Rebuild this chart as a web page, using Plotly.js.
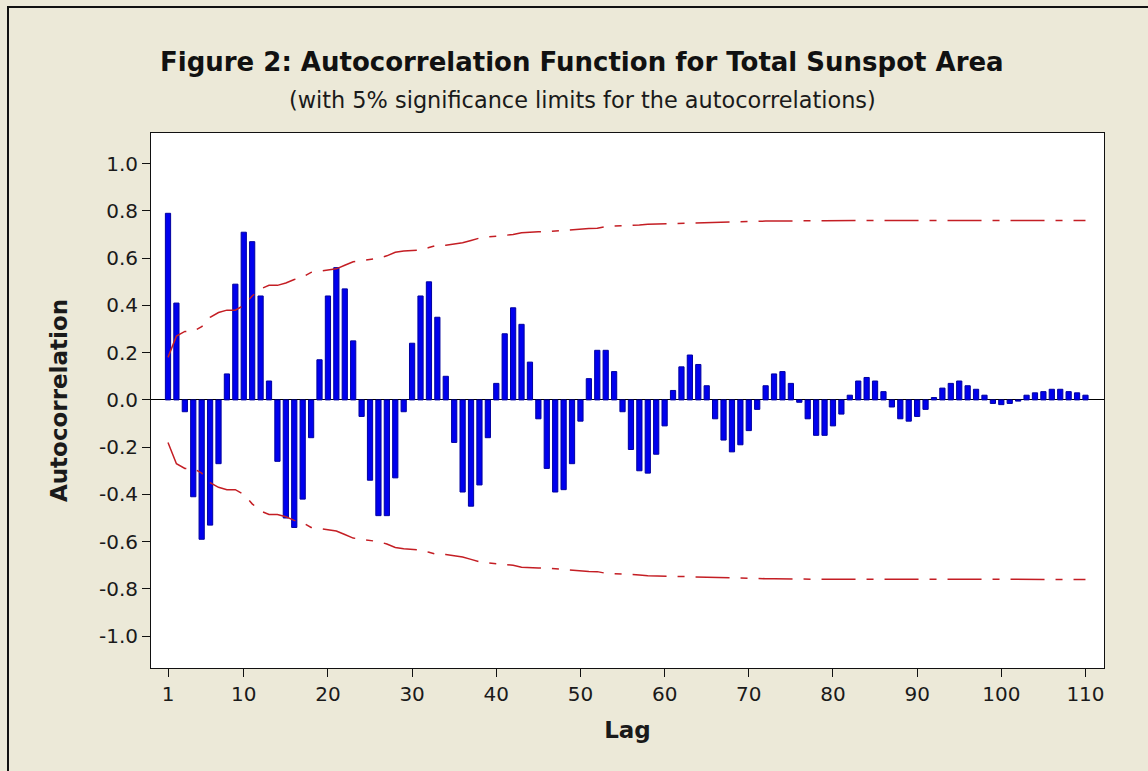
<!DOCTYPE html>
<html>
<head>
<meta charset="utf-8">
<script src="https://cdn.plot.ly/plotly-3.0.1.min.js"></script>
<style>
  html, body { margin: 0; padding: 0; background: #ece9d8; overflow: hidden; }
  #wrap { position: relative; width: 1148px; height: 771px; }
  #chart { position: absolute; left: 0; top: 0; width: 1148px; height: 771px; }
  #frame { position: absolute; left: 7px; top: 6px; width: 1160px; height: 800px;
           border-left: 2px solid #111; border-top: 2px solid #111; pointer-events: none; }
</style>
</head>
<body>
<div id="wrap">
  <div id="chart"></div>
  <div id="frame"></div>
</div>
<script>
// Lags 1..110
const lags = [];
for (let k = 1; k <= 110; k++) lags.push(k);

// Autocorrelation values
const acf = [
  0.79, 0.41, -0.05, -0.41, -0.59, -0.53, -0.27, 0.11, 0.49, 0.71,
  0.67, 0.44, 0.08, -0.26, -0.50, -0.54, -0.42, -0.16, 0.17, 0.44,
  0.56, 0.47, 0.25, -0.07, -0.34, -0.49, -0.49, -0.33, -0.05, 0.24,
  0.44, 0.50, 0.35, 0.10, -0.18, -0.39, -0.45, -0.36, -0.16, 0.07,
  0.28, 0.39, 0.32, 0.16, -0.08, -0.29, -0.39, -0.38, -0.27, -0.09,
  0.09, 0.21, 0.21, 0.12, -0.05, -0.21, -0.30, -0.31, -0.23, -0.11,
  0.04, 0.14, 0.19, 0.15, 0.06, -0.08, -0.17, -0.22, -0.19, -0.13,
  -0.04, 0.06, 0.11, 0.12, 0.07, -0.01, -0.08, -0.15, -0.15, -0.11,
  -0.06, 0.02, 0.08, 0.095, 0.08, 0.035, -0.03, -0.08, -0.09, -0.07,
  -0.04, 0.01, 0.05, 0.07, 0.08, 0.06, 0.045, 0.02, -0.015, -0.02,
  -0.015, -0.005, 0.02, 0.03, 0.035, 0.045, 0.045, 0.035, 0.03, 0.02
];

// Upper 5% significance limit
const upperLimit = [
  0.18, 0.27, 0.29, 0.29, 0.31, 0.35, 0.37, 0.38, 0.38, 0.40,
  0.44, 0.47, 0.485, 0.485, 0.495, 0.51, 0.52, 0.54, 0.545, 0.55,
  0.555, 0.57, 0.585, 0.59, 0.595, 0.60, 0.61, 0.625, 0.63, 0.633,
  0.635, 0.645, 0.655, 0.655, 0.66, 0.665, 0.675, 0.685, 0.69, 0.694,
  0.696, 0.70, 0.708, 0.711, 0.712, 0.712, 0.715, 0.718, 0.72, 0.725,
  0.726, 0.727, 0.734, 0.736, 0.737, 0.738, 0.741, 0.744, 0.745, 0.747,
  0.748, 0.75, 0.751, 0.752, 0.753, 0.754, 0.755, 0.755, 0.755, 0.756,
  0.756, 0.757, 0.757, 0.758, 0.758, 0.758, 0.758, 0.759, 0.759, 0.759,
  0.759, 0.759, 0.759, 0.76, 0.76, 0.76, 0.76, 0.76, 0.76, 0.76,
  0.76, 0.76, 0.76, 0.76, 0.76, 0.76, 0.76, 0.76, 0.76, 0.76,
  0.76, 0.76, 0.76, 0.76, 0.76, 0.76, 0.76, 0.76, 0.76, 0.76
];

// Lower 5% significance limit
const lowerLimit = [
  -0.18, -0.27, -0.29, -0.29, -0.31, -0.35, -0.37, -0.38, -0.38, -0.40,
  -0.44, -0.47, -0.485, -0.485, -0.495, -0.51, -0.52, -0.54, -0.545, -0.55,
  -0.555, -0.57, -0.585, -0.59, -0.595, -0.60, -0.61, -0.625, -0.63, -0.633,
  -0.635, -0.645, -0.655, -0.655, -0.66, -0.665, -0.675, -0.685, -0.69, -0.694,
  -0.696, -0.70, -0.708, -0.711, -0.712, -0.712, -0.715, -0.718, -0.72, -0.725,
  -0.726, -0.727, -0.734, -0.736, -0.737, -0.738, -0.741, -0.744, -0.745, -0.747,
  -0.748, -0.75, -0.751, -0.752, -0.753, -0.754, -0.755, -0.755, -0.755, -0.756,
  -0.756, -0.757, -0.757, -0.758, -0.758, -0.758, -0.758, -0.759, -0.759, -0.759,
  -0.759, -0.759, -0.759, -0.76, -0.76, -0.76, -0.76, -0.76, -0.76, -0.76,
  -0.76, -0.76, -0.76, -0.76, -0.76, -0.76, -0.76, -0.76, -0.76, -0.76,
  -0.76, -0.76, -0.76, -0.76, -0.76, -0.76, -0.76, -0.76, -0.76, -0.76
];

const xTickVals = [1, 10, 20, 30, 40, 50, 60, 70, 80, 90, 100, 110];
const xTickText = ['1', '10', '20', '30', '40', '50', '60', '70', '80', '90', '100', '110'];
const yTickVals = [-1.0, -0.8, -0.6, -0.4, -0.2, 0.0, 0.2, 0.4, 0.6, 0.8, 1.0];
const yTickText = ['-1.0', '-0.8', '-0.6', '-0.4', '-0.2', '0.0', '0.2', '0.4', '0.6', '0.8', '1.0'];

const titleText = 'Figure 2: Autocorrelation Function for Total Sunspot Area';
const subtitleText = '(with 5% significance limits for the autocorrelations)';

const FONT = 'DejaVu Sans, Verdana, sans-serif';
const limitDash = '34px,11px,7px,11px';

const traces = [
  {
    type: 'bar', x: lags, y: acf, width: 0.62,
    marker: { color: '#0000ee', line: { color: '#0000a0', width: 1 } },
    hoverinfo: 'x+y'
  },
  {
    type: 'scatter', mode: 'lines', x: lags, y: upperLimit,
    line: { color: '#c41e24', width: 1.5, dash: limitDash }
  },
  {
    type: 'scatter', mode: 'lines', x: lags, y: lowerLimit,
    line: { color: '#c41e24', width: 1.5, dash: limitDash }
  }
];

const layout = {
  width: 1148, height: 771,
  paper_bgcolor: '#ece9d8', plot_bgcolor: '#ffffff',
  margin: { l: 151, r: 44, t: 133, b: 103, pad: 0 },
  showlegend: false,
  font: { family: FONT, color: '#1a1a1a' },
  xaxis: {
    range: [-1.02, 112.2], tickmode: 'array', tickvals: xTickVals, ticktext: xTickText,
    ticks: 'outside', ticklen: 8, tickwidth: 1, tickcolor: '#111',
    showline: true, linecolor: '#111', linewidth: 1, mirror: true,
    showgrid: false, zeroline: false,
    tickfont: { family: FONT, size: 20, color: '#1a1a1a' },
    title: { text: '<b>Lag</b>', font: { family: FONT, size: 23, color: '#1a1a1a' }, standoff: 16 }
  },
  yaxis: {
    range: [-1.135, 1.13], tickmode: 'array', tickvals: yTickVals, ticktext: yTickText,
    ticks: 'outside', ticklen: 8, tickwidth: 1, tickcolor: '#111',
    showline: true, linecolor: '#111', linewidth: 1, mirror: true,
    showgrid: false, zeroline: true, zerolinecolor: '#000', zerolinewidth: 1,
    tickfont: { family: FONT, size: 20, color: '#1a1a1a' },
    title: { text: '<b>Autocorrelation</b>', font: { family: FONT, size: 23, color: '#1a1a1a' }, standoff: 24 }
  },
  annotations: [
    { text: '<b>' + titleText + '</b>', xref: 'paper', yref: 'paper', x: 0.4523, y: 1.1327,
      xanchor: 'center', yanchor: 'middle', showarrow: false,
      font: { family: FONT, size: 26, color: '#111' } },
    { text: subtitleText, xref: 'paper', yref: 'paper', x: 0.4533, y: 1.0617,
      xanchor: 'center', yanchor: 'middle', showarrow: false,
      font: { family: FONT, size: 22.4, color: '#1a1a1a' } }
  ]
};

Plotly.newPlot('chart', traces, layout, { displayModeBar: false, staticPlot: true });
</script>
</body>
</html>
